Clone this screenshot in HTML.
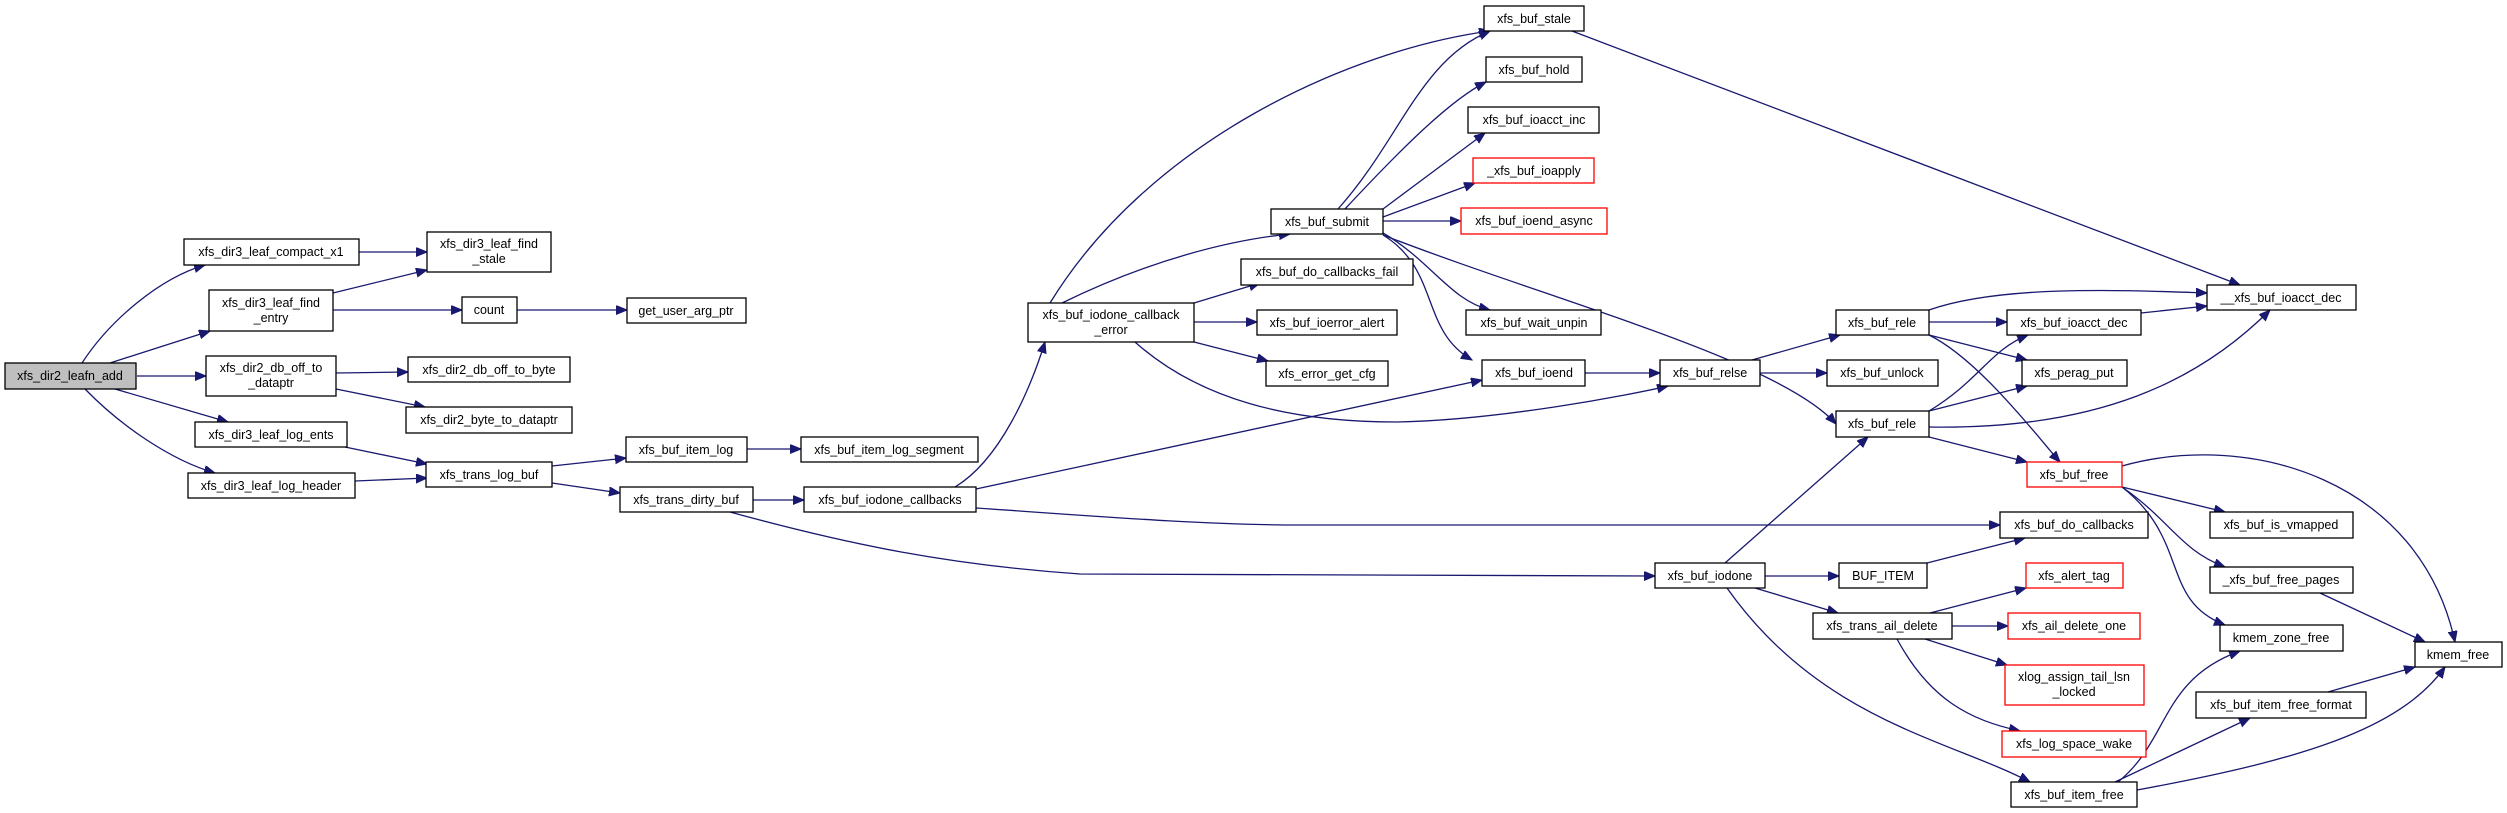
<!DOCTYPE html>
<html><head><meta charset="utf-8"><style>
html,body{margin:0;padding:0;background:#fff;}
svg{display:block;}
text{font-family:"Liberation Sans",Arial,sans-serif;font-size:12.5px;fill:#000;text-anchor:middle;}
.n{fill:#fff;stroke:#000;stroke-width:1.3;}
.r{fill:#fff;stroke:#ff0000;stroke-width:1.3;}
.g{fill:#bfbfbf;stroke:#000;stroke-width:1.3;}
path.e{fill:none;stroke:#191970;stroke-width:1.3;marker-end:url(#a);}
</style></head><body>
<svg width="2507" height="813" viewBox="0 0 2507 813" xmlns="http://www.w3.org/2000/svg">
<defs><marker id="a" markerWidth="12" markerHeight="10" refX="11" refY="4.5" orient="auto" markerUnits="userSpaceOnUse"><path d="M0,0 L11,4.5 L0,9 Z" fill="#191970" stroke="#191970"/></marker></defs>
<g>
<path class="e" d="M82,363 C110,320 160,278 205,265"/>
<path class="e" d="M110,363 L210,331"/>
<path class="e" d="M137,376 L206,376"/>
<path class="e" d="M115,389 L228,422"/>
<path class="e" d="M85,389 C120,425 170,460 215,473"/>
<path class="e" d="M359,252 L427,252"/>
<path class="e" d="M333,293 L427,270"/>
<path class="e" d="M333,310 L462,310"/>
<path class="e" d="M517,310 L627,310"/>
<path class="e" d="M336,373 L408,372"/>
<path class="e" d="M336,389 L425,407"/>
<path class="e" d="M345,447 L427,464"/>
<path class="e" d="M355,481 L427,478"/>
<path class="e" d="M552,466 L626,458"/>
<path class="e" d="M552,483 L620,493"/>
<path class="e" d="M747,449 L801,449"/>
<path class="e" d="M753,500 L804,500"/>
<path class="e" d="M730,512 C850,545 950,565 1080,574 L1655,576"/>
<path class="e" d="M955,487 C1000,460 1030,390 1045,342"/>
<path class="e" d="M976,489 L1482,380"/>
<path class="e" d="M976,508 C1080,515 1200,525 1300,525 L2000,525"/>
<path class="e" d="M1050,303 C1150,140 1350,50 1490,31"/>
<path class="e" d="M1062,303 C1150,260 1230,240 1290,234"/>
<path class="e" d="M1194,303 L1260,283"/>
<path class="e" d="M1194,322 L1257,322"/>
<path class="e" d="M1194,342 L1268,361"/>
<path class="e" d="M1135,342 C1200,400 1290,422 1397,422 C1500,420 1630,395 1668,386"/>
<path class="e" d="M1338,209 C1400,140 1420,60 1490,31"/>
<path class="e" d="M1345,209 C1400,150 1450,100 1486,82"/>
<path class="e" d="M1383,209 L1485,133"/>
<path class="e" d="M1383,217 L1475,183"/>
<path class="e" d="M1383,221 L1461,221"/>
<path class="e" d="M1383,233 C1430,260 1450,300 1490,310"/>
<path class="e" d="M1383,235 C1440,270 1420,330 1472,360"/>
<path class="e" d="M1383,235 C1550,300 1780,360 1836,424"/>
<path class="e" d="M1572,31 L2240,285"/>
<path class="e" d="M1585,373 L1660,373"/>
<path class="e" d="M1752,360 L1840,335"/>
<path class="e" d="M1760,373 L1827,373"/>
<path class="e" d="M1929,310 C2000,285 2120,290 2207,293"/>
<path class="e" d="M1929,322 L2007,322"/>
<path class="e" d="M1929,335 L2027,360"/>
<path class="e" d="M1929,335 C1980,360 2040,440 2060,462"/>
<path class="e" d="M2141,313 L2207,306"/>
<path class="e" d="M1929,411 C1980,380 1990,350 2028,335"/>
<path class="e" d="M1929,411 L2027,386"/>
<path class="e" d="M1929,427 C2100,430 2200,380 2270,310"/>
<path class="e" d="M1929,437 L2027,462"/>
<path class="e" d="M2122,487 L2225,512"/>
<path class="e" d="M2122,487 C2170,520 2180,550 2225,567"/>
<path class="e" d="M2122,487 C2190,540 2160,600 2225,625"/>
<path class="e" d="M2122,466 C2250,430 2420,480 2455,642"/>
<path class="e" d="M1725,563 L1868,437"/>
<path class="e" d="M1765,576 L1839,576"/>
<path class="e" d="M1755,588 L1838,613"/>
<path class="e" d="M1727,588 C1820,720 1950,740 2030,782"/>
<path class="e" d="M1927,563 L2025,538"/>
<path class="e" d="M1930,613 L2026,588"/>
<path class="e" d="M1952,626 L2008,626"/>
<path class="e" d="M1925,639 L2007,665"/>
<path class="e" d="M1897,639 C1930,700 1970,720 2020,731"/>
<path class="e" d="M2320,593 L2425,642"/>
<path class="e" d="M2328,692 L2415,667"/>
<path class="e" d="M2118,782 C2170,740 2160,680 2240,651"/>
<path class="e" d="M2115,782 L2250,718"/>
<path class="e" d="M2137,790 C2300,760 2400,730 2445,667"/>
</g>
<g>
<rect class="g" x="5" y="363" width="131" height="26"/><text x="70" y="380">xfs_dir2_leafn_add</text>
<rect class="n" x="184" y="239" width="175" height="26"/><text x="271" y="256">xfs_dir3_leaf_compact_x1</text>
<rect class="n" x="209" y="290" width="124" height="41"/><text x="271" y="307">xfs_dir3_leaf_find</text><text x="271" y="322">_entry</text>
<rect class="n" x="427" y="232" width="124" height="40"/><text x="489" y="248">xfs_dir3_leaf_find</text><text x="489" y="263">_stale</text>
<rect class="n" x="462" y="297" width="55" height="26"/><text x="489" y="314">count</text>
<rect class="n" x="206" y="356" width="130" height="40"/><text x="271" y="372">xfs_dir2_db_off_to</text><text x="271" y="387">_dataptr</text>
<rect class="n" x="408" y="357" width="162" height="25"/><text x="489" y="374">xfs_dir2_db_off_to_byte</text>
<rect class="n" x="406" y="407" width="166" height="26"/><text x="489" y="424">xfs_dir2_byte_to_dataptr</text>
<rect class="n" x="195" y="422" width="152" height="25"/><text x="271" y="439">xfs_dir3_leaf_log_ents</text>
<rect class="n" x="188" y="473" width="167" height="25"/><text x="271" y="490">xfs_dir3_leaf_log_header</text>
<rect class="n" x="426" y="462" width="126" height="25"/><text x="489" y="479">xfs_trans_log_buf</text>
<rect class="n" x="627" y="298" width="119" height="25"/><text x="686" y="315">get_user_arg_ptr</text>
<rect class="n" x="626" y="437" width="121" height="25"/><text x="686" y="454">xfs_buf_item_log</text>
<rect class="n" x="801" y="437" width="177" height="25"/><text x="889" y="454">xfs_buf_item_log_segment</text>
<rect class="n" x="620" y="487" width="133" height="25"/><text x="686" y="504">xfs_trans_dirty_buf</text>
<rect class="n" x="804" y="487" width="172" height="25"/><text x="890" y="504">xfs_buf_iodone_callbacks</text>
<rect class="n" x="1028" y="303" width="166" height="39"/><text x="1111" y="319">xfs_buf_iodone_callback</text><text x="1111" y="334">_error</text>
<rect class="n" x="1271" y="209" width="112" height="25"/><text x="1327" y="226">xfs_buf_submit</text>
<rect class="n" x="1241" y="259" width="172" height="26"/><text x="1327" y="276">xfs_buf_do_callbacks_fail</text>
<rect class="n" x="1257" y="310" width="140" height="25"/><text x="1327" y="327">xfs_buf_ioerror_alert</text>
<rect class="n" x="1266" y="361" width="122" height="25"/><text x="1327" y="378">xfs_error_get_cfg</text>
<rect class="n" x="1484" y="6" width="100" height="25"/><text x="1534" y="23">xfs_buf_stale</text>
<rect class="n" x="1486" y="57" width="96" height="25"/><text x="1534" y="74">xfs_buf_hold</text>
<rect class="n" x="1468" y="107" width="131" height="26"/><text x="1534" y="124">xfs_buf_ioacct_inc</text>
<rect class="r" x="1473" y="158" width="121" height="25"/><text x="1534" y="175">_xfs_buf_ioapply</text>
<rect class="r" x="1461" y="208" width="146" height="26"/><text x="1534" y="225">xfs_buf_ioend_async</text>
<rect class="n" x="1466" y="310" width="135" height="25"/><text x="1534" y="327">xfs_buf_wait_unpin</text>
<rect class="n" x="1482" y="360" width="103" height="26"/><text x="1534" y="377">xfs_buf_ioend</text>
<rect class="n" x="1660" y="360" width="100" height="26"/><text x="1710" y="377">xfs_buf_relse</text>
<rect class="n" x="1827" y="360" width="111" height="26"/><text x="1882" y="377">xfs_buf_unlock</text>
<rect class="n" x="1836" y="310" width="93" height="25"/><text x="1882" y="327">xfs_buf_rele</text>
<rect class="n" x="1836" y="411" width="93" height="26"/><text x="1882" y="428">xfs_buf_rele</text>
<rect class="n" x="2007" y="310" width="134" height="25"/><text x="2074" y="327">xfs_buf_ioacct_dec</text>
<rect class="n" x="2207" y="285" width="149" height="25"/><text x="2281" y="302">__xfs_buf_ioacct_dec</text>
<rect class="n" x="2022" y="360" width="105" height="26"/><text x="2074" y="377">xfs_perag_put</text>
<rect class="r" x="2027" y="462" width="95" height="25"/><text x="2074" y="479">xfs_buf_free</text>
<rect class="n" x="2000" y="512" width="148" height="26"/><text x="2074" y="529">xfs_buf_do_callbacks</text>
<rect class="n" x="2210" y="512" width="143" height="26"/><text x="2281" y="529">xfs_buf_is_vmapped</text>
<rect class="n" x="1655" y="563" width="110" height="25"/><text x="1710" y="580">xfs_buf_iodone</text>
<rect class="n" x="1839" y="563" width="88" height="25"/><text x="1883" y="580">BUF_ITEM</text>
<rect class="r" x="2026" y="563" width="97" height="25"/><text x="2074" y="580">xfs_alert_tag</text>
<rect class="n" x="2210" y="567" width="143" height="26"/><text x="2281" y="584">_xfs_buf_free_pages</text>
<rect class="n" x="1813" y="613" width="139" height="26"/><text x="1882" y="630">xfs_trans_ail_delete</text>
<rect class="r" x="2008" y="613" width="132" height="26"/><text x="2074" y="630">xfs_ail_delete_one</text>
<rect class="n" x="2220" y="625" width="123" height="26"/><text x="2281" y="642">kmem_zone_free</text>
<rect class="n" x="2415" y="642" width="87" height="25"/><text x="2458" y="659">kmem_free</text>
<rect class="r" x="2005" y="665" width="139" height="40"/><text x="2074" y="681">xlog_assign_tail_lsn</text><text x="2074" y="696">_locked</text>
<rect class="n" x="2196" y="692" width="170" height="26"/><text x="2281" y="709">xfs_buf_item_free_format</text>
<rect class="r" x="2002" y="731" width="144" height="26"/><text x="2074" y="748">xfs_log_space_wake</text>
<rect class="n" x="2011" y="782" width="126" height="25"/><text x="2074" y="799">xfs_buf_item_free</text>
</g>
</svg>
</body></html>
